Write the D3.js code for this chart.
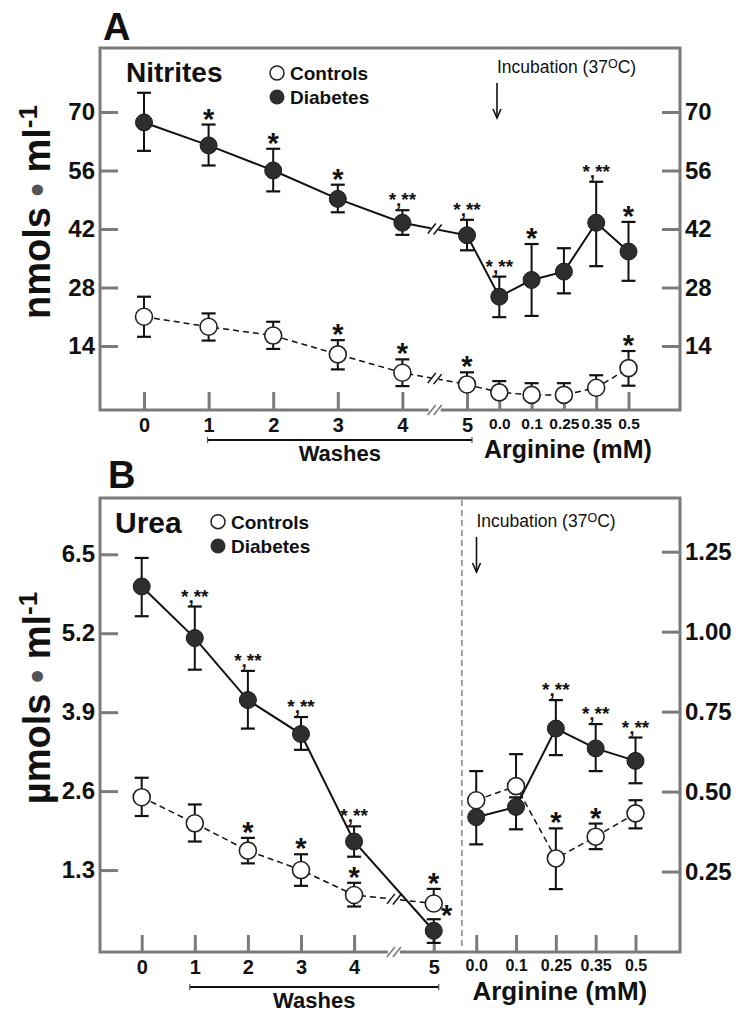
<!DOCTYPE html>
<html><head><meta charset="utf-8">
<script src="https://cdn.jsdelivr.net/npm/d3@7"></script>
<style>body{margin:0;background:#fff}svg{display:block}</style>
</head><body>
<script>
// ---------------- DATA ----------------
// Panel A: Nitrites
const nitriteXLabels = ["0","1","2","3","4","5","0.0","0.1","0.25","0.35","0.5"];
const nitriteXSlots  = [0,1,2,3,4,5,5.5,6,6.5,7,7.5];
const nitriteDiabetes        = [67.5,62,56,49.2,43.5,40.5,25.8,29.8,31.8,43.5,36.6];
const nitriteDiabetesErrUp   = [7.1,5,5.2,3.4,3,3.7,4.8,8.6,5.6,9.8,7.1];
const nitriteDiabetesErrDown = [6.8,4.8,5,3.2,2.9,3.6,4.9,8.6,5.2,10.4,7];
const nitriteDiabetesSig     = ["","*","*","*","*,**","*,**","*,**","*","","*,**","*"];
const nitriteControls        = [21,18.6,16.5,12,7.6,4.8,2.9,2.3,2.3,4.0,8.7];
const nitriteControlsErrUp   = [4.8,3.2,3.3,3.4,3.2,2.9,2.7,2.8,2.8,3.0,4.1];
const nitriteControlsErrDown = [4.8,3.3,3.2,3.6,3.2,0,0,0,0,0,4.2];
const nitriteControlsSig     = ["","","","*","*","*","","","","","*"];
const nitriteYTicks = [14,28,42,56,70];

// Panel B: Urea (washes, left axis) and arginine (right axis)
const ureaXLabels = ["0","1","2","3","4","5"];
const ureaXSlots  = [0,1,2,3,4,5.5];
const ureaDiabetes        = [5.97,5.12,4.10,3.54,1.77,0.30];
const ureaDiabetesErrUp   = [0.47,0.52,0.48,0.28,0.25,0.19];
const ureaDiabetesErrDown = [0.49,0.52,0.47,0.26,0.25,0.2];
const ureaDiabetesSig     = ["","*,**","*,**","*,**","*,**","*"];
const ureaControls        = [2.50,2.07,1.62,1.30,0.89,0.75];
const ureaControlsErrUp   = [0.32,0.31,0.21,0.26,0.2,0.24];
const ureaControlsErrDown = [0.31,0.3,0.21,0.26,0.19,0];
const ureaControlsSig     = ["","","*","*","*","*"];
const ureaYTicks = [1.3,2.6,3.9,5.2,6.5];

const argXLabels = ["0.0","0.1","0.25","0.35","0.5"];
const argXSlots  = [6.3,7.05,7.8,8.55,9.3];
const argDiabetes        = [0.42,0.452,0.697,0.635,0.596];
const argDiabetesErrUp   = [0.04,0.03,0.089,0.076,0.073];
const argDiabetesErrDown = [0.085,0.07,0.083,0.071,0.07];
const argDiabetesSig     = ["","","*,**","*,**","*,**"];
const argControls        = [0.473,0.517,0.291,0.359,0.432];
const argControlsErrUp   = [0.091,0.1,0.094,0.041,0.041];
const argControlsErrDown = [0,0,0.096,0.039,0.047];
const argControlsSig     = ["","","*","*",""];
const argYTicks = [0.25,0.5,0.75,1.0,1.25];

// ---------------- DRAWING ----------------
const FONT = '"Liberation Sans", Arial, Helvetica, sans-serif';
const FRAME = "#7b7b7b";
const INK = "#111";
const svg = d3.select("body").append("svg").attr("width",748).attr("height",1017)
  .style("font-family", FONT);

function txt(g, x, y, s, size, weight, anchor) {
  return g.append("text").attr("x",x).attr("y",y).attr("font-size",size)
    .attr("font-weight",weight||"bold").attr("text-anchor",anchor||"start")
    .attr("fill",INK).attr("font-family",FONT).text(s);
}

function styleAxis(sel, size) {
  sel.select(".domain").remove();
  sel.selectAll(".tick line").attr("stroke",FRAME).attr("stroke-width",3);
  sel.selectAll(".tick text").attr("font-size",size).attr("font-weight","bold")
     .attr("font-family",FONT).attr("fill",INK);
}

function slashes(g, x, y, color, gapW) {
  g.append("line").attr("x1",x-gapW/2).attr("x2",x+gapW/2).attr("y1",y).attr("y2",y)
    .attr("stroke","#fff").attr("stroke-width",5);
  [-3,3].forEach(o=>{
    g.append("line").attr("x1",x+o-4).attr("y1",y+5).attr("x2",x+o+4).attr("y2",y-5)
      .attr("stroke",color).attr("stroke-width",1.6);
  });
}

function lineBreak(g, x1,y1,x2,y2, color) {
  const mx=(x1+x2)/2, my=(y1+y2)/2;
  const ang=Math.atan2(y2-y1,x2-x1);
  const dx=Math.cos(ang), dy=Math.sin(ang);
  g.append("line").attr("x1",mx-dx*4).attr("y1",my-dy*4).attr("x2",mx+dx*4).attr("y2",my+dy*4)
    .attr("stroke","#fff").attr("stroke-width",5);
  [-3,3].forEach(o=>{
    const cx=mx+dx*o, cy=my+dy*o;
    g.append("line").attr("x1",cx-4).attr("y1",cy+5).attr("x2",cx+4).attr("y2",cy-5)
      .attr("stroke",color).attr("stroke-width",1.5);
  });
}

function series(g, xs, ys, slots, vals, filled) {
  const pts = slots.map((s,i)=>[xs(s), ys(vals[i])]);
  g.append("path").attr("d", d3.line()(pts)).attr("fill","none")
    .attr("stroke",INK).attr("stroke-width", filled?2:1.5)
    .attr("stroke-dasharray", filled?null:"6,4");
  return pts;
}

function errorsAndMarkers(g, xs, ys, slots, vals, up, down, sig, filled, opts) {
  opts = opts || {};
  slots.forEach((s,i)=>{
    const x = xs(s), yT = ys(vals[i]+up[i]), yB = ys(vals[i]-down[i]);
    g.append("line").attr("x1",x).attr("x2",x).attr("y1",yT).attr("y2",yB)
      .attr("stroke",INK).attr("stroke-width",2);
    if (up[i]>0) g.append("line").attr("x1",x-7).attr("x2",x+7).attr("y1",yT).attr("y2",yT)
      .attr("stroke",INK).attr("stroke-width",2.2);
    if (down[i]>0) g.append("line").attr("x1",x-7).attr("x2",x+7).attr("y1",yB).attr("y2",yB)
      .attr("stroke",INK).attr("stroke-width",2.2);
  });
  slots.forEach((s,i)=>{
    g.append("circle").attr("cx",xs(s)).attr("cy",ys(vals[i])).attr("r",8.5)
      .attr("fill", filled?"#2e2e2e":"#fff").attr("stroke", filled?"#1a1a1a":"#222")
      .attr("stroke-width", filled?1:1.6);
  });
  slots.forEach((s,i)=>{
    const lab = sig[i]; if (!lab) return;
    const x = xs(s), yT = ys(vals[i]+up[i]);
    if (opts.rightIndex === i) {
      txt(g, x+13, yT+6, lab, 29, "bold", "middle");
    } else if (lab === "*") {
      txt(g, x, yT+4, lab, 29, "bold", "middle");
    } else {
      txt(g, x, yT-4, lab, 19, "bold", "middle");
    }
  });
}

function frame(g, x0,y0,x1,y1) {
  g.append("rect").attr("x",x0).attr("y",y0).attr("width",x1-x0).attr("height",y1-y0)
    .attr("fill","none").attr("stroke",FRAME).attr("stroke-width",3);
}

function yTitle(g, x, y, first) {
  const t = g.append("text").attr("transform",`translate(${x},${y}) rotate(-90)`)
    .attr("text-anchor","middle").attr("font-size",38).attr("font-weight","bold")
    .attr("fill",INK).attr("font-family",FONT);
  t.append("tspan").text(first + " ");
  t.append("tspan").attr("fill","#555").text("•");
  t.append("tspan").text(" ml");
  t.append("tspan").attr("font-size",26).attr("dy",-13).text("-1");
}

function incubation(g, x, y) {
  const t = g.append("text").attr("x",x).attr("y",y).attr("font-size",17.5)
    .attr("fill",INK).attr("font-family",FONT);
  t.append("tspan").text("Incubation (37");
  t.append("tspan").attr("font-size",12.5).attr("dy",-5).text("O");
  t.append("tspan").attr("dy",5).text("C)");
  const ay0 = y+10, ay1 = y+45;
  g.append("line").attr("x1",x).attr("x2",x).attr("y1",ay0).attr("y2",ay1)
    .attr("stroke",INK).attr("stroke-width",1.6);
  g.append("path").attr("d",`M${x-4},${ay1-9} L${x},${ay1} L${x+4},${ay1-9}`)
    .attr("fill","none").attr("stroke",INK).attr("stroke-width",1.6);
}

function legend(g, cx, cy1, cy2) {
  g.append("circle").attr("cx",cx).attr("cy",cy1).attr("r",7).attr("fill","#fff")
    .attr("stroke","#222").attr("stroke-width",1.5);
  g.append("circle").attr("cx",cx).attr("cy",cy2).attr("r",7.5).attr("fill","#2e2e2e");
  txt(g, cx+13, cy1+7, "Controls", 19, "bold");
  txt(g, cx+13, cy2+7, "Diabetes", 19, "bold");
}

function bracket(g, x0, x1, y) {
  g.append("line").attr("x1",x0).attr("x2",x1).attr("y1",y).attr("y2",y).attr("stroke",INK).attr("stroke-width",2);
  [x0,x1].forEach(x=>g.append("line").attr("x1",x).attr("x2",x).attr("y1",y-3).attr("y2",y+3)
    .attr("stroke","#555").attr("stroke-width",1.2));
}

// ===== Panel A =====
(function(){
  const g = svg.append("g");
  const L=100,T=48,R=680,B=410;
  const x = d3.scaleLinear().domain([0,7.5]).range([144,628.5]);
  const y = d3.scaleLinear().domain([0,70]).range([404.5,112]);

  frame(g,L,T,R,B);
  g.append("g").attr("transform",`translate(${L},0)`)
    .call(d3.axisLeft(y).tickValues(nitriteYTicks).tickSize(-18).tickPadding(5))
    .call(s=>styleAxis(s,24));
  g.append("g").attr("transform",`translate(${R},0)`)
    .call(d3.axisRight(y).tickValues(nitriteYTicks).tickSize(-18).tickPadding(5))
    .call(s=>styleAxis(s,24));
  const xa = g.append("g").attr("transform",`translate(0,${B})`)
    .call(d3.axisBottom(x).tickValues(nitriteXSlots).tickSize(-18).tickPadding(8)
      .tickFormat((d,i)=>nitriteXLabels[i]))
    .call(s=>styleAxis(s,20));
  xa.selectAll(".tick text").attr("font-size",(d,i)=> i>5 ? 15.5 : 20);
  slashes(g, x(4.5), B, FRAME, 12);

  const pc = series(g,x,y,nitriteXSlots,nitriteControls,false);
  const pd = series(g,x,y,nitriteXSlots,nitriteDiabetes,true);
  lineBreak(g, pd[4][0],pd[4][1],pd[5][0],pd[5][1], INK);
  lineBreak(g, pc[4][0],pc[4][1],pc[5][0],pc[5][1], INK);
  errorsAndMarkers(g,x,y,nitriteXSlots,nitriteControls,nitriteControlsErrUp,nitriteControlsErrDown,nitriteControlsSig,false);
  errorsAndMarkers(g,x,y,nitriteXSlots,nitriteDiabetes,nitriteDiabetesErrUp,nitriteDiabetesErrDown,nitriteDiabetesSig,true);

  txt(g, 103, 40, "A", 38, "bold");
  txt(g, 126, 82, "Nitrites", 28, "bold");
  legend(g, 277, 73, 97);
  incubation(g, 497, 73);
  yTitle(g, 50, 212, "nmols");
  bracket(g, x(1)-1, x(5)+5, 440);
  txt(g, (x(1)+x(5))/2+2, 461, "Washes", 22, "bold", "middle");
  txt(g, (x(5.5)+x(7.5))/2+4, 458, "Arginine (mM)", 25, "bold", "middle");
})();

// ===== Panel B =====
(function(){
  const g = svg.append("g");
  const L=100,T=498,R=680,B=952;
  const x = d3.scaleLinear().domain([0,9.3]).range([141.7,635.5]);
  const y = d3.scaleLinear().domain([0,6.5]).range([949,554.3]);
  const y2 = d3.scaleLinear().domain([0,1.25]).range([951.5,551.7]);

  frame(g,L,T,R,B);
  g.append("g").attr("transform",`translate(${L},0)`)
    .call(d3.axisLeft(y).tickValues(ureaYTicks).tickSize(-18).tickPadding(5).tickFormat(d3.format(".1f")))
    .call(s=>styleAxis(s,24));
  g.append("g").attr("transform",`translate(${R},0)`)
    .call(d3.axisRight(y2).tickValues(argYTicks).tickSize(-18).tickPadding(5).tickFormat(d3.format(".2f")))
    .call(s=>styleAxis(s,24));
  const allSlots = ureaXSlots.concat(argXSlots);
  const allLabels = ureaXLabels.concat(argXLabels);
  const xa = g.append("g").attr("transform",`translate(0,${B})`)
    .call(d3.axisBottom(x).tickValues(allSlots).tickSize(-17).tickPadding(8)
      .tickFormat((d,i)=>allLabels[i]))
    .call(s=>styleAxis(s,20));
  xa.selectAll(".tick text").attr("font-size",(d,i)=> i>5 ? 16 : 20);
  slashes(g, x(4.75), B, FRAME, 12);

  // separator between washes and incubation
  const sx = x(6.03);
  g.append("line").attr("x1",sx).attr("x2",sx).attr("y1",T+2).attr("y2",B-2)
    .attr("stroke","#666").attr("stroke-width",1.2).attr("stroke-dasharray","6,4");

  const pc = series(g,x,y,ureaXSlots,ureaControls,false);
  series(g,x,y,ureaXSlots,ureaDiabetes,true);
  series(g,x,y2,argXSlots,argControls,false);
  series(g,x,y2,argXSlots,argDiabetes,true);
  lineBreak(g, pc[4][0],pc[4][1],pc[5][0],pc[5][1], INK);

  errorsAndMarkers(g,x,y,ureaXSlots,ureaControls,ureaControlsErrUp,ureaControlsErrDown,ureaControlsSig,false);
  errorsAndMarkers(g,x,y,ureaXSlots,ureaDiabetes,ureaDiabetesErrUp,ureaDiabetesErrDown,ureaDiabetesSig,true,{rightIndex:5});
  errorsAndMarkers(g,x,y2,argXSlots,argDiabetes,argDiabetesErrUp,argDiabetesErrDown,argDiabetesSig,true);
  errorsAndMarkers(g,x,y2,argXSlots,argControls,argControlsErrUp,argControlsErrDown,argControlsSig,false);

  txt(g, 108, 488, "B", 38, "bold");
  txt(g, 115, 533, "Urea", 30, "bold");
  legend(g, 218, 521.7, 546);
  incubation(g, 476.5, 527);
  yTitle(g, 50, 698, "µmols");
  bracket(g, x(1)-5, x(5.5)+5, 987);
  txt(g, (x(1)+x(5.5))/2, 1008, "Washes", 22, "bold", "middle");
  txt(g, (x(6.3)+x(9.3))/2+4, 1000, "Arginine (mM)", 26, "bold", "middle");
})();
</script>
</body></html>
